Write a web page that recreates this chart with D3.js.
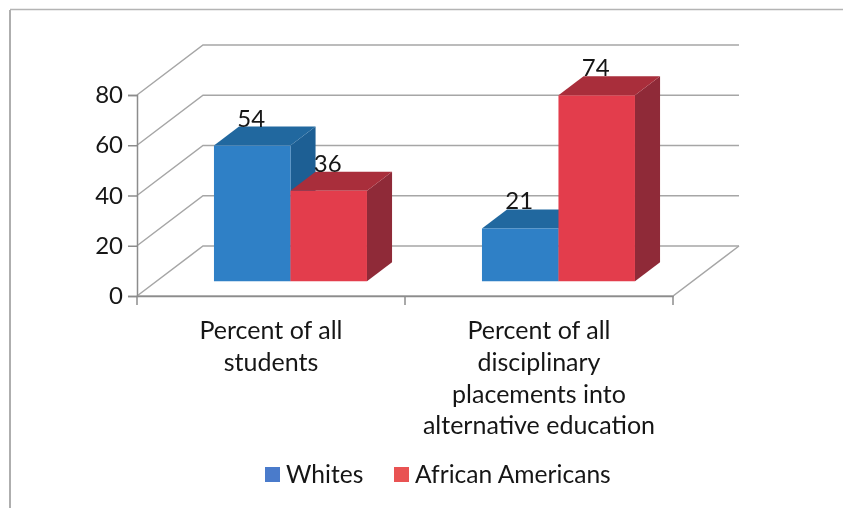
<!DOCTYPE html>
<html>
<head>
<meta charset="utf-8">
<script src="https://cdn.jsdelivr.net/npm/d3@7/dist/d3.min.js"></script>
<style>
  html, body { margin: 0; padding: 0; background: #fff; overflow: hidden; }
  svg { display: block; filter: blur(0.45px); } /* the reference is a soft scan */
  text { font-family: Lato, "Open Sans", sans-serif; fill: #161616; }
</style>
</head>
<body>
<div id="chart"></div>
<script>
const categories = ['Percent of all students', 'Percent of all disciplinary placements into alternative education'];
const categoryLines = [
  ['Percent of all', 'students'],
  ['Percent of all', 'disciplinary', 'placements into', 'alternative education']
];
const seriesNames = ['Whites', 'African Americans'];
const whites = [54, 21];
const africanAmericans = [36, 74];
const yTicks = [0, 20, 40, 60, 80];

const width = 843, height = 508;
const plot = { left: 137, right: 673, bottom: 296, top: 95 };
const wall = { dx: 66, dy: -50 };     // how far the back wall sits from the front plane
const barDepth = 0.38;                // share of the floor depth a bar takes
const barInset = 0.295;               // gap between front plane and bar front

const colors = {
  Whites: { front: '#2f80c6', top: '#21689f', side: '#1d5f94', key: '#4a7bcb' },
  'African Americans': { front: '#e33d4c', top: '#a92e3b', side: '#8f2a38', key: '#e95353' }
};

const svg = d3.select('#chart').append('svg')
  .attr('width', width)
  .attr('height', height);

const x = d3.scaleBand(categories, [plot.left, plot.right]);
const xSeries = d3.scaleBand(seriesNames, [0, 153]);
const y = d3.scaleLinear([0, 80], [plot.bottom, plot.top]);

// sheet border of the scanned page
svg.append('path')
  .attr('d', `M10,${height}V10`)
  .attr('stroke', '#9a9a9a')
  .attr('stroke-width', 1.6);
svg.append('path')
  .attr('d', `M10,9.5H${width}`)
  .attr('stroke', '#b4b4b4')
  .attr('stroke-width', 1.6);

// gridlines on the back wall + floor/side edges
const grid = svg.append('g').attr('stroke', '#a6a6a6').attr('stroke-width', 1.5).attr('fill', 'none');
yTicks.forEach(t => {
  const yFront = y(t);
  grid.append('path').attr('d', `M${plot.left},${yFront}l${wall.dx},${wall.dy}H${plot.right + wall.dx}`);
});
grid.append('path').attr('d', `M${plot.left},${plot.bottom}H${plot.right}l${wall.dx},${wall.dy}`);

// axes
const axisY = d3.axisLeft(y).tickValues(yTicks).tickSize(9).tickPadding(5);
const gy = svg.append('g').attr('transform', `translate(${plot.left},0)`).call(axisY);
gy.selectAll('text').style('font-size', '24px');
gy.selectAll('line, path').attr('stroke', '#8c8c8c').attr('stroke-width', 1.5);

const axisX = d3.axisBottom(x).tickValues([]).tickSize(0);
svg.append('g').attr('transform', `translate(0,${plot.bottom})`).call(axisX)
  .select('.domain').attr('stroke', '#8c8c8c').attr('stroke-width', 1.5);
svg.append('g').attr('stroke', '#8c8c8c').attr('stroke-width', 1.5)
  .selectAll('line').data(d3.range(3)).join('line')
  .attr('x1', i => plot.left + i * x.bandwidth())
  .attr('x2', i => plot.left + i * x.bandwidth())
  .attr('y1', plot.bottom)
  .attr('y2', plot.bottom + 9);

// bars: each is a front, top and side face
const ox = barInset * wall.dx, oy = barInset * wall.dy;
const bdx = barDepth * wall.dx, bdy = barDepth * wall.dy;
const bars = [];
categories.forEach((c, i) => {
  bars.push({ cat: c, name: 'Whites', value: whites[i] });
  bars.push({ cat: c, name: 'African Americans', value: africanAmericans[i] });
});
const barLeft = d => x(d.cat) + (x.bandwidth() - xSeries.step() * 2) / 2 + xSeries(d.name) + ox;
const barG = svg.append('g').selectAll('g').data(bars).join('g')
  .attr('transform', d => `translate(${barLeft(d)},${oy})`);

const bw = xSeries.bandwidth();
barG.append('path') // side
  .attr('fill', d => colors[d.name].side)
  .attr('d', d => `M${bw},${y(d.value)}l${bdx},${bdy}V${y(0) + bdy}l${-bdx},${-bdy}Z`);
barG.append('path') // top
  .attr('fill', d => colors[d.name].top)
  .attr('d', d => `M0,${y(d.value)}l${bdx},${bdy}h${bw}l${-bdx},${-bdy}Z`);
barG.append('rect') // front
  .attr('fill', d => colors[d.name].front)
  .attr('x', 0)
  .attr('y', d => y(d.value))
  .attr('width', bw)
  .attr('height', d => y(0) - y(d.value));

// value labels go in their own layer so they sit above every bar
svg.append('g').selectAll('text').data(bars).join('text')
  .attr('x', d => barLeft(d) + bw / 2 - 1)
  .attr('y', d => y(d.value) + oy - 19)
  .attr('text-anchor', 'middle')
  .style('font-size', '24px')
  .text(d => d.value);

// category labels
const labels = svg.append('g').selectAll('text').data(categories).join('text')
  .attr('text-anchor', 'middle')
  .attr('x', d => x(d) + x.bandwidth() / 2)
  .attr('y', 339)
  .style('font-size', '25px');
labels.selectAll('tspan').data((d, i) => categoryLines[i]).join('tspan')
  .attr('x', function () { return this.parentNode.getAttribute('x'); })
  .attr('dy', (d, i) => i ? 31.8 : 0)
  .text(d => d);

// legend
const legendX = d3.scaleOrdinal(seriesNames, [265, 394]);
const legend = svg.append('g').selectAll('g').data(seriesNames).join('g')
  .attr('transform', d => `translate(${legendX(d)},467)`);
legend.append('rect').attr('width', 15).attr('height', 15).attr('fill', d => colors[d].key);
legend.append('text').attr('x', 21).attr('y', 16).style('font-size', '24.6px').text(d => d);
</script>
</body>
</html>
